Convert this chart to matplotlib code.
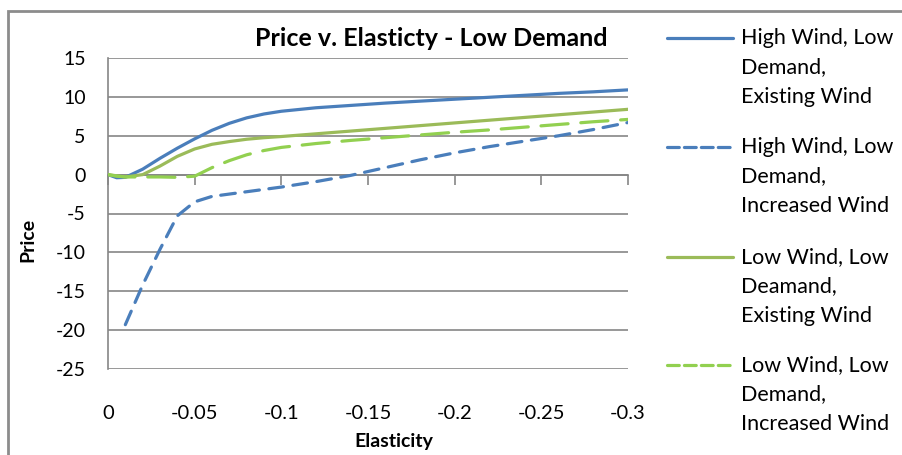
import numpy as np
import matplotlib
matplotlib.use("Agg")
import matplotlib.pyplot as plt
from matplotlib.lines import Line2D
from matplotlib.patches import Rectangle

plt.rcParams['font.family'] = ['Lato', 'DejaVu Sans']
plt.rcParams['axes.unicode_minus'] = False

# Elasticity values (x) and prices for each scenario
elasticity = [0, -0.005, -0.01, -0.02, -0.03, -0.04, -0.05, -0.06, -0.07, -0.08,
              -0.09, -0.1, -0.12, -0.14, -0.16, -0.18, -0.2, -0.22, -0.24, -0.26,
              -0.28, -0.3]

high_wind_existing = [0, -0.4, -0.35, 0.7, 2.1, 3.4, 4.6, 5.7, 6.6, 7.3,
                      7.8, 8.15, 8.6, 8.9, 9.2, 9.45, 9.7, 9.95, 10.2, 10.45,
                      10.65, 10.9]
high_wind_increased = [np.nan, np.nan, -19.3, -14.2, -9.6, -5.3, -3.5, -2.8, -2.5, -2.2,
                       -1.9, -1.6, -0.9, -0.1, 0.9, 1.9, 2.8, 3.6, 4.3, 5.0,
                       5.8, 6.7]
low_wind_existing = [0, -0.15, -0.3, 0.0, 1.1, 2.35, 3.3, 3.9, 4.25, 4.55,
                     4.75, 4.9, 5.25, 5.6, 5.95, 6.3, 6.65, 7.0, 7.35, 7.7,
                     8.05, 8.4]
low_wind_increased = [0, -0.2, -0.3, -0.3, -0.3, -0.35, -0.2, 0.9, 1.8, 2.55,
                      3.1, 3.5, 4.0, 4.4, 4.75, 5.1, 5.45, 5.75, 6.1, 6.45,
                      6.8, 7.1]

series_labels = [
    "High Wind, Low\nDemand,\nExisting Wind",
    "High Wind, Low\nDemand,\nIncreased Wind",
    "Low Wind, Low\nDeamand,\nExisting Wind",
    "Low Wind, Low\nDemand,\nIncreased Wind",
]

x_ticks = [0, -0.05, -0.1, -0.15, -0.2, -0.25, -0.3]
x_tick_labels = ["0", "-0.05", "-0.1", "-0.15", "-0.2", "-0.25", "-0.3"]
y_ticks = [-25, -20, -15, -10, -5, 0, 5, 10, 15]

BLUE = "#4A7EBB"
GREEN = "#9BBB59"
LIME = "#92D050"
GRID = "#868686"

W, H = 902, 455
fig = plt.figure(figsize=(W / 100, H / 100), dpi=100)
ax = fig.add_axes([108 / W, 1 - 369 / H, 520 / W, 311 / H])

lw = 2.3
styles = [
    dict(color=BLUE, lw=lw, ls="-"),
    dict(color=BLUE, lw=lw, ls=(0, (4.6, 3.0))),
    dict(color=GREEN, lw=lw, ls="-"),
    dict(color=LIME, lw=lw, ls=(0, (8.5, 4.0))),
]
data = [high_wind_existing, high_wind_increased, low_wind_existing, low_wind_increased]

lines = []
for vals, st in zip(data, styles):
    ln, = ax.plot(elasticity, vals, solid_capstyle="round", dash_capstyle="round",
                  solid_joinstyle="round", zorder=3, **st)
    lines.append(ln)

ax.set_xlim(0, -0.3)
ax.set_ylim(-25, 15)
ax.set_yticks(y_ticks)
ax.set_xticks(x_ticks)
ax.yaxis.grid(True, color=GRID, lw=1.2)
ax.set_axisbelow(True)

for s in ("top", "right"):
    ax.spines[s].set_visible(False)
ax.spines["left"].set_color(GRID)
ax.spines["left"].set_linewidth(1.2)
ax.spines["bottom"].set_position(("data", 0))
ax.spines["bottom"].set_color(GRID)
ax.spines["bottom"].set_linewidth(1.2)

ax.tick_params(axis="y", length=0, pad=16, labelsize=14, labelcolor="black")
ax.tick_params(axis="x", direction="out", length=7, width=1.2, color=GRID,
               labelbottom=False)

# tick labels of the horizontal axis sit below the plot area
sec = ax.secondary_xaxis("bottom")
sec.set_xticks(x_ticks, x_tick_labels)
sec.tick_params(length=0, pad=26, labelsize=14.5)
sec.spines["bottom"].set_visible(False)

fig.text(431 / W, 1 - 38 / H, "Price v. Elasticty - Low Demand", fontsize=18,
         fontweight="bold", ha="center", va="center")
fig.text(28 / W, 1 - 240 / H, "Price", fontsize=14, fontweight="bold",
         rotation=90, ha="center", va="center")
fig.text(394 / W, 1 - 442 / H, "Elasticity", fontsize=14, fontweight="bold",
         ha="center", va="center")

# legend: sample line beside the first line of each multi-line label
entry_top = [38, 147, 257, 365]
for ln, label, y0 in zip(lines, series_labels, entry_top):
    fig.add_artist(Line2D([667 / W, 733 / W], [1 - y0 / H, 1 - y0 / H],
                          transform=fig.transFigure, color=ln.get_color(),
                          lw=ln.get_linewidth(), ls=ln.get_linestyle(),
                          solid_capstyle="round", dash_capstyle="round"))
    for i, part in enumerate(label.split("\n")):
        fig.text(741 / W, 1 - (y0 + i * 29.5) / H, part, fontsize=15.5,
                 ha="left", va="center")

# chart area frame
fig.add_artist(Rectangle((8 / W, -0.1), 1.2, 1.1 - 11 / H, transform=fig.transFigure,
                         fill=False, edgecolor="#8C8C8C", lw=2, clip_on=False))

fig.savefig("out.png", dpi=100)
